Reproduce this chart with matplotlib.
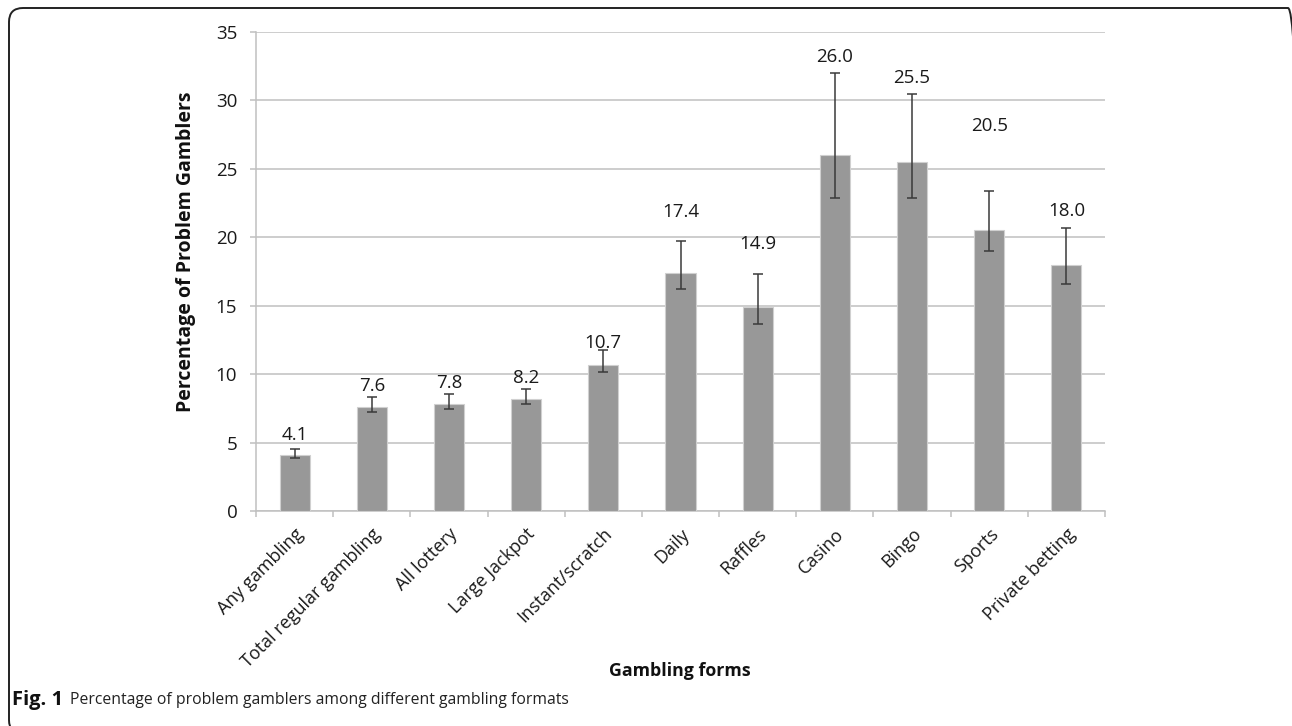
import matplotlib
matplotlib.use("Agg")
import matplotlib.pyplot as plt
from matplotlib.patches import FancyBboxPatch
from matplotlib.transforms import IdentityTransform
import numpy as np

# Data
categories = ["Any gambling", "Total regular gambling", "All lottery", "Large Jackpot",
              "Instant/scratch", "Daily", "Raffles", "Casino", "Bingo", "Sports",
              "Private betting"]
values = [4.1, 7.6, 7.8, 8.2, 10.7, 17.4, 14.9, 26.0, 25.5, 20.5, 18.0]
ci_low = [3.9, 7.25, 7.45, 7.8, 10.15, 16.2, 13.65, 22.9, 22.9, 19.0, 16.6]
ci_high = [4.5, 8.3, 8.55, 8.95, 11.8, 19.75, 17.3, 32.0, 30.45, 23.4, 20.7]
y_ticks = [0, 5, 10, 15, 20, 25, 30, 35]

# Vertical placement of each value label above its bar (data units)
label_lift = [1.45, 1.5, 1.55, 1.5, 1.55, 4.45, 4.6, 7.15, 6.15, 7.6, 3.95]

plt.rcParams["font.family"] = ["Open Sans", "DejaVu Sans"]

W, H = 1292, 726
fig = plt.figure(figsize=(W / 100, H / 100), dpi=100)
ax = fig.add_axes([256 / W, 1 - 511 / H, 849 / W, 479 / H])

x = np.arange(len(categories))
vals = np.array(values)
yerr = np.vstack([vals - np.array(ci_low), np.array(ci_high) - vals])

grid_c = "#c0c0c0"
ax.bar(x, vals, width=0.39, color="#989898", edgecolor="#d0d0d0", linewidth=0.8, zorder=3)
ax.errorbar(x, vals, yerr=yerr, fmt="none", ecolor="#3a3a3a", elinewidth=1.1,
            capsize=3.6, capthick=1.1, zorder=4)

for xi, v, lift in zip(x, values, label_lift):
    ax.text(xi, v + lift, f"{v:.1f}", ha="center", va="center", fontsize=13.5,
            color="#1a1a1a", zorder=5)

ax.set_xlim(-0.5, len(categories) - 0.5)
ax.set_ylim(0, 35)
ax.set_yticks(y_ticks)
ax.set_yticklabels([str(t) for t in y_ticks], fontsize=13.5, color="#1a1a1a")
ax.yaxis.grid(True, color=grid_c, linewidth=1.1, zorder=0)
ax.set_axisbelow(True)

for side in ("top", "right"):
    ax.spines[side].set_visible(False)
for side in ("left", "bottom"):
    ax.spines[side].set_color(grid_c)
    ax.spines[side].set_linewidth(1.1)
ax.tick_params(axis="y", length=4.5, width=1.1, color=grid_c, pad=9)

# Category labels at bar centres, tick marks between categories
ax.set_xticks(x)
ax.set_xticklabels(categories, rotation=45, ha="right", va="top",
                   rotation_mode="anchor", fontsize=13, color="#1a1a1a")
ax.tick_params(axis="x", which="major", length=0, pad=10)
ax.set_xticks(np.arange(-0.5, len(categories)), minor=True)
ax.tick_params(axis="x", which="minor", length=4, width=1.1, color=grid_c)

fig.text(186 / W, 1 - 252 / H, "Percentage of Problem Gamblers", rotation=90,
         ha="center", va="center", fontsize=14, fontweight="bold", color="#111111")
fig.text(680 / W, 1 - 671 / H, "Gambling forms", ha="center", va="center",
         fontsize=12.8, fontweight="bold", color="#111111")

# Caption
fig.text(12 / W, 1 - 700 / H, "Fig. 1", ha="left", va="center", fontsize=14.5,
         fontweight="bold", color="#111111")
fig.text(70 / W, 1 - 700 / H, "Percentage of problem gamblers among different gambling formats",
         ha="left", va="center", fontsize=11.3, color="#222222")

# Rounded frame around the figure, in pixel units (runs off the right and bottom edges)
fx0, fy_top, fx1, fy_bot = 9, 8, 1302, 734
frame = FancyBboxPatch((fx0, H - fy_bot), fx1 - fx0, fy_bot - fy_top,
                       boxstyle="round,pad=0,rounding_size=14",
                       transform=IdentityTransform(), fill=False, edgecolor="#222222",
                       linewidth=1.4)
fig.patches.append(frame)

fig.savefig("out.png", dpi=100)
